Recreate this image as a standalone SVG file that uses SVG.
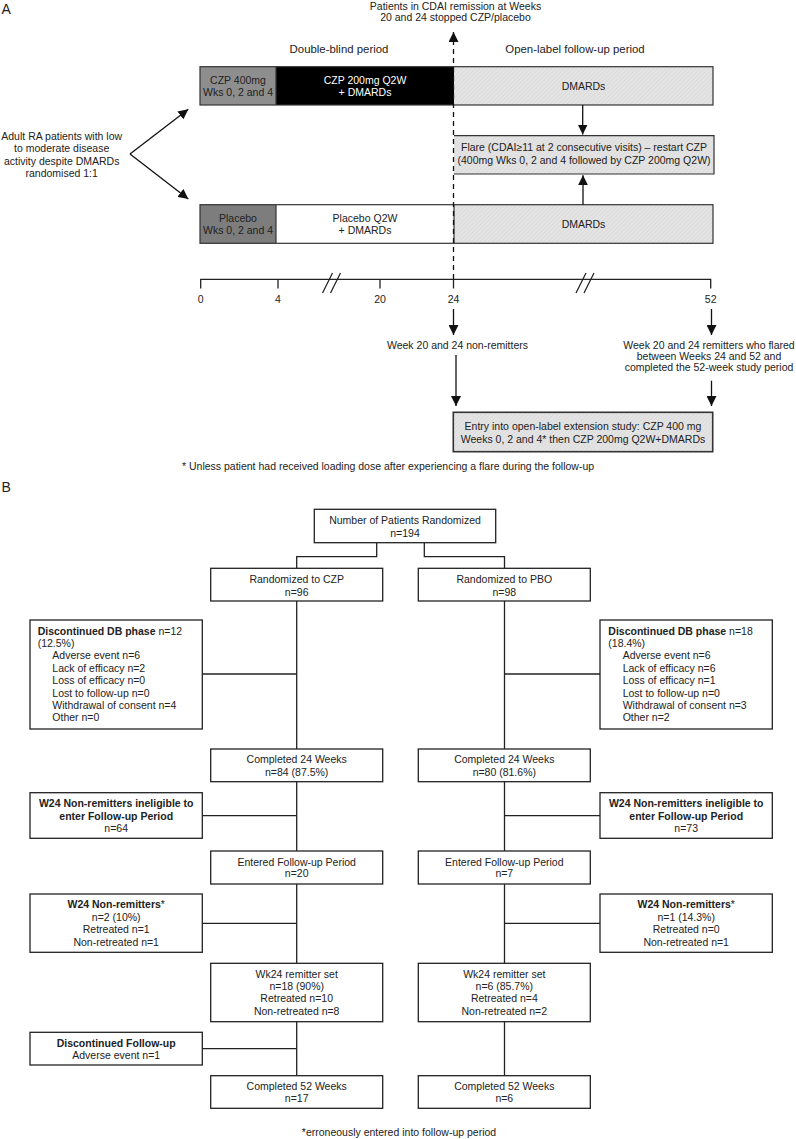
<svg xmlns="http://www.w3.org/2000/svg" width="796" height="1139" viewBox="0 0 796 1139">
<defs>
<pattern id="hatch" width="3" height="3" patternUnits="userSpaceOnUse" patternTransform="rotate(45)">
<rect width="3" height="3" fill="#e4e4e4"/>
<line x1="0" y1="0" x2="0" y2="3" stroke="#d3d3d3" stroke-width="1"/>
</pattern>
<marker id="ah" viewBox="0 0 10 10" refX="10" refY="5" markerWidth="10" markerHeight="10" markerUnits="userSpaceOnUse" orient="auto"><path d="M0,0 L10,5 L0,10 z" fill="#111"/></marker>
</defs>
<style>
text{font-family:"Liberation Sans",Arial,sans-serif;font-size:10.5px;fill:#222}
.c{text-anchor:middle}
.h{font-size:11.4px}
.b{font-weight:bold}
.lbl{font-size:14px}
.wt{fill:#fff}
.box{fill:#fff;stroke:#222;stroke-width:1.3}
.bar{fill:none;stroke:#333;stroke-width:1.2}
.ln{stroke:#222;stroke-width:1.3;fill:none}
.arr{stroke:#111;stroke-width:1.3;fill:none;marker-end:url(#ah)}
</style>
<rect width="796" height="1139" fill="#fff"/>

<!-- ===== PART A ===== -->
<text x="1.5" y="13.5" class="lbl">A</text>
<text x="455.5" y="9.8" class="c">Patients in CDAI remission at Weeks</text>
<text x="455.5" y="21.3" class="c">20 and 24 stopped CZP/placebo</text>
<text x="339" y="53.3" class="c h">Double-blind period</text>
<text x="575" y="53.3" class="c h">Open-label follow-up period</text>

<g id="intro">
<text x="61.7" y="139.8" class="c">Adult RA patients with low</text>
<text x="61.7" y="152.2" class="c">to moderate disease</text>
<text x="61.7" y="164.6" class="c">activity despite DMARDs</text>
<text x="61.7" y="177" class="c">randomised 1:1</text>
</g>

<g id="czp-bar">
<rect x="200" y="66.7" width="76" height="38.3" fill="#8e8e8e"/>
<rect x="276" y="66.7" width="178" height="38.3" fill="#000"/>
<rect x="454" y="66.7" width="259" height="38.3" fill="url(#hatch)"/>
<rect x="200" y="66.7" width="513" height="38.3" class="bar"/>
<line x1="276" y1="66.7" x2="276" y2="105" class="bar"/>
<text x="238" y="84" class="c">CZP 400mg</text>
<text x="238" y="95.5" class="c">Wks 0, 2 and 4</text>
<text x="365" y="84" class="c wt">CZP 200mg Q2W</text>
<text x="365" y="95.5" class="c wt">+ DMARDs</text>
<text x="583.5" y="90.3" class="c">DMARDs</text>
</g>

<g id="flare">
<rect x="454" y="135.7" width="260" height="38.3" fill="url(#hatch)"/>
<path d="M454,135.7 H714 V174 H454" class="bar"/>
<text x="584" y="151" class="c">Flare (CDAI≥11 at 2 consecutive visits) – restart CZP</text>
<text x="584" y="163.8" class="c">(400mg Wks 0, 2 and 4 followed by CZP 200mg Q2W)</text>
</g>

<g id="pbo-bar">
<rect x="200" y="204.7" width="76" height="38.6" fill="#7d7d7d"/>
<rect x="276" y="204.7" width="178" height="38.6" fill="#fff"/>
<rect x="454" y="204.7" width="259" height="38.6" fill="url(#hatch)"/>
<rect x="200" y="204.7" width="513" height="38.6" class="bar"/>
<line x1="276" y1="204.7" x2="276" y2="243.3" class="bar"/>
<line x1="454" y1="204.7" x2="454" y2="243.3" class="bar"/>
<text x="238" y="221.5" class="c">Placebo</text>
<text x="238" y="233.8" class="c">Wks 0, 2 and 4</text>
<text x="365" y="221.5" class="c">Placebo Q2W</text>
<text x="365" y="233.8" class="c">+ DMARDs</text>
<text x="583.5" y="228" class="c">DMARDs</text>
</g>

<g id="timeline">
<path d="M200.7,288.5 V279.3 H710.7 V288.5" class="ln"/>
<line x1="278" y1="279.3" x2="278" y2="288.5" class="ln"/>
<line x1="380" y1="279.3" x2="380" y2="288.5" class="ln"/>
<line x1="453.5" y1="279.3" x2="453.5" y2="288.5" class="ln"/>
<line x1="322.5" y1="293" x2="332.5" y2="273" class="ln"/>
<line x1="330.5" y1="293" x2="340.5" y2="273" class="ln"/>
<line x1="576" y1="293" x2="586" y2="273" class="ln"/>
<line x1="584" y1="293" x2="594" y2="273" class="ln"/>
<text x="200.7" y="303" class="c">0</text>
<text x="278" y="303" class="c">4</text>
<text x="380" y="303" class="c">20</text>
<text x="453.5" y="303" class="c">24</text>
<text x="710.7" y="303" class="c">52</text>
</g>

<g id="week-labels">
<text x="457.5" y="348.5" class="c">Week 20 and 24 non-remitters</text>
<text x="709" y="348.8" class="c">Week 20 and 24 remitters who flared</text>
<text x="709" y="359.8" class="c">between Weeks 24 and 52 and</text>
<text x="709" y="370.5" class="c">completed the 52-week study period</text>
</g>

<g id="entry">
<rect x="453.3" y="412.3" width="259.4" height="39.4" fill="url(#hatch)" stroke="#333" stroke-width="1.6"/>
<text x="583" y="429.8" class="c">Entry into open-label extension study: CZP 400 mg</text>
<text x="583" y="442.8" class="c">Weeks 0, 2 and 4* then CZP 200mg Q2W+DMARDs</text>
</g>
<text x="182" y="470">* Unless patient had received loading dose after experiencing a flare during the follow-up</text>

<g id="connectors-a">
<line x1="453.5" y1="279" x2="453.5" y2="32" stroke="#111" stroke-width="1.3" stroke-dasharray="5,4" marker-end="url(#ah)"/>
<line x1="130" y1="154" x2="188.3" y2="109.3" class="arr"/>
<line x1="130" y1="154" x2="188.3" y2="199" class="arr"/>
<line x1="582.7" y1="105" x2="582.7" y2="134.5" class="arr"/>
<line x1="583" y1="204.7" x2="583" y2="175.3" class="arr"/>
<line x1="453.5" y1="309" x2="453.5" y2="335" class="arr"/>
<line x1="711.5" y1="309" x2="711.5" y2="335" class="arr"/>
<line x1="456" y1="355" x2="456" y2="406" class="arr"/>
<line x1="711.5" y1="380.7" x2="711.5" y2="406" class="arr"/>
</g>

<!-- ===== PART B ===== -->
<text x="1.5" y="492" class="lbl">B</text>

<g id="connectors-b">
<path d="M376.7,542.7 V556.7 H296.7 V568.3" class="ln"/>
<path d="M424.3,542.7 V556.7 H504.5 V568.3" class="ln"/>
<line x1="296.7" y1="601" x2="296.7" y2="1075.7" class="ln"/>
<line x1="504.5" y1="601" x2="504.5" y2="1075.7" class="ln"/>
<line x1="202.3" y1="674" x2="296.7" y2="674" class="ln"/>
<line x1="202.3" y1="815.7" x2="296.7" y2="815.7" class="ln"/>
<line x1="202.3" y1="923.3" x2="296.7" y2="923.3" class="ln"/>
<line x1="202.3" y1="1048.7" x2="296.7" y2="1048.7" class="ln"/>
<line x1="504.5" y1="674" x2="600" y2="674" class="ln"/>
<line x1="504.5" y1="815.7" x2="600" y2="815.7" class="ln"/>
<line x1="504.5" y1="923.3" x2="600" y2="923.3" class="ln"/>
</g>

<g id="randomized">
<rect x="314.3" y="509.3" width="181.4" height="33.4" class="box"/>
<text x="405" y="523.8" class="c">Number of Patients Randomized</text>
<text x="405" y="536.5" class="c">n=194</text>
</g>
<g id="rand-czp">
<rect x="210.7" y="568.3" width="172" height="32.7" class="box"/>
<text x="296.7" y="583" class="c">Randomized to CZP</text>
<text x="296.7" y="595.5" class="c">n=96</text>
</g>
<g id="rand-pbo">
<rect x="418.3" y="568.3" width="172" height="32.7" class="box"/>
<text x="504.3" y="583" class="c">Randomized to PBO</text>
<text x="504.3" y="595.5" class="c">n=98</text>
</g>

<g id="disc-czp">
<rect x="30" y="620" width="172.3" height="109" class="box"/>
<text x="37.7" y="634.5"><tspan class="b">Discontinued DB phase</tspan> n=12</text>
<text x="37.7" y="646.9">(12.5%)</text>
<text x="52.3" y="659.3">Adverse event n=6</text>
<text x="52.3" y="671.7">Lack of efficacy n=2</text>
<text x="52.3" y="684.1">Loss of efficacy n=0</text>
<text x="52.3" y="696.5">Lost to follow-up n=0</text>
<text x="52.3" y="708.9">Withdrawal of consent n=4</text>
<text x="52.3" y="721.3">Other n=0</text>
</g>
<g id="disc-pbo">
<rect x="600" y="620" width="172.3" height="109" class="box"/>
<text x="608.3" y="634.5"><tspan class="b">Discontinued DB phase</tspan> n=18</text>
<text x="608.3" y="646.9">(18.4%)</text>
<text x="622.7" y="659.3">Adverse event n=6</text>
<text x="622.7" y="671.7">Lack of efficacy n=6</text>
<text x="622.7" y="684.1">Loss of efficacy n=1</text>
<text x="622.7" y="696.5">Lost to follow-up n=0</text>
<text x="622.7" y="708.9">Withdrawal of consent n=3</text>
<text x="622.7" y="721.3">Other n=2</text>
</g>

<g id="comp24-czp">
<rect x="210.7" y="749" width="172" height="32.7" class="box"/>
<text x="296.7" y="763.1" class="c">Completed 24 Weeks</text>
<text x="296.7" y="776" class="c">n=84 (87.5%)</text>
</g>
<g id="comp24-pbo">
<rect x="418.3" y="749" width="172" height="32.7" class="box"/>
<text x="504.3" y="763.1" class="c">Completed 24 Weeks</text>
<text x="504.3" y="776" class="c">n=80 (81.6%)</text>
</g>

<g id="inelig-czp">
<rect x="30" y="792.7" width="172.3" height="45.6" class="box"/>
<text x="116.2" y="807.1" class="c b">W24 Non-remitters ineligible to</text>
<text x="116.2" y="819.5" class="c b">enter Follow-up Period</text>
<text x="116.2" y="831.5" class="c">n=64</text>
</g>
<g id="inelig-pbo">
<rect x="600" y="792.7" width="172.3" height="45.6" class="box"/>
<text x="686.2" y="807.1" class="c b">W24 Non-remitters ineligible to</text>
<text x="686.2" y="819.5" class="c b">enter Follow-up Period</text>
<text x="686.2" y="831.5" class="c">n=73</text>
</g>

<g id="entered-czp">
<rect x="210.7" y="851" width="172" height="33" class="box"/>
<text x="296.7" y="865.5" class="c">Entered Follow-up Period</text>
<text x="296.7" y="877.2" class="c">n=20</text>
</g>
<g id="entered-pbo">
<rect x="418.3" y="851" width="172" height="33" class="box"/>
<text x="504.3" y="865.5" class="c">Entered Follow-up Period</text>
<text x="504.3" y="877.2" class="c">n=7</text>
</g>

<g id="nonrem-czp">
<rect x="30" y="894" width="172.3" height="58.3" class="box"/>
<text x="116.2" y="908.1" class="c"><tspan class="b">W24 Non-remitters</tspan>*</text>
<text x="116.2" y="920.5" class="c">n=2 (10%)</text>
<text x="116.2" y="933.1" class="c">Retreated n=1</text>
<text x="116.2" y="945.5" class="c">Non-retreated n=1</text>
</g>
<g id="nonrem-pbo">
<rect x="600" y="894" width="172.3" height="58.3" class="box"/>
<text x="686.2" y="908.1" class="c"><tspan class="b">W24 Non-remitters</tspan>*</text>
<text x="686.2" y="920.5" class="c">n=1 (14.3%)</text>
<text x="686.2" y="933.1" class="c">Retreated n=0</text>
<text x="686.2" y="945.5" class="c">Non-retreated n=1</text>
</g>

<g id="remit-czp">
<rect x="210.7" y="963.3" width="172" height="58.4" class="box"/>
<text x="296.7" y="977.8" class="c">Wk24 remitter set</text>
<text x="296.7" y="990" class="c">n=18 (90%)</text>
<text x="296.7" y="1002.3" class="c">Retreated n=10</text>
<text x="296.7" y="1014.8" class="c">Non-retreated n=8</text>
</g>
<g id="remit-pbo">
<rect x="418.3" y="963.3" width="172" height="58.4" class="box"/>
<text x="504.3" y="977.8" class="c">Wk24 remitter set</text>
<text x="504.3" y="990" class="c">n=6 (85.7%)</text>
<text x="504.3" y="1002.3" class="c">Retreated n=4</text>
<text x="504.3" y="1014.8" class="c">Non-retreated n=2</text>
</g>

<g id="discfu-czp">
<rect x="30" y="1032.3" width="172.3" height="32.7" class="box"/>
<text x="116.2" y="1046.5" class="c b">Discontinued Follow-up</text>
<text x="116.2" y="1058.8" class="c">Adverse event n=1</text>
</g>

<g id="comp52-czp">
<rect x="210.7" y="1075.7" width="172" height="32.6" class="box"/>
<text x="296.7" y="1089.8" class="c">Completed 52 Weeks</text>
<text x="296.7" y="1101.6" class="c">n=17</text>
</g>
<g id="comp52-pbo">
<rect x="418.3" y="1075.7" width="172" height="32.6" class="box"/>
<text x="504.3" y="1089.8" class="c">Completed 52 Weeks</text>
<text x="504.3" y="1101.6" class="c">n=6</text>
</g>

<text x="399" y="1136" class="c">*erroneously entered into follow-up period</text>
</svg>
